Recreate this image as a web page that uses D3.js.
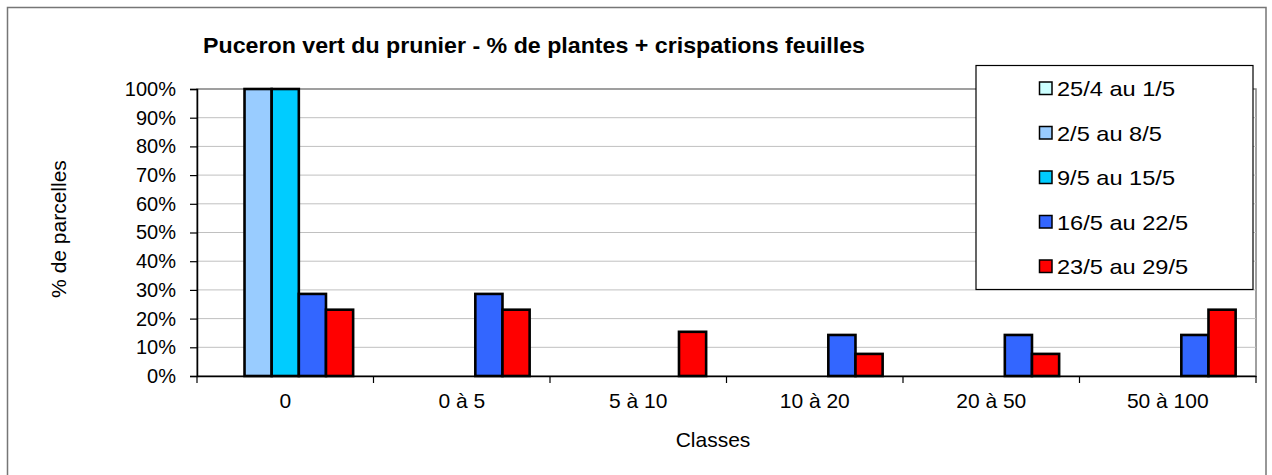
<!DOCTYPE html>
<html><head><meta charset="utf-8">
<script src="https://cdn.jsdelivr.net/npm/d3@7"></script>
<style>
html,body{margin:0;padding:0;background:#fff;}
svg{display:block;font-family:"Liberation Sans",Arial,sans-serif;}
</style></head>
<body>
<svg id="c" width="1272" height="475"></svg>
<script>
const categories = ["0", "0 à 5", "5 à 10", "10 à 20", "20 à 50", "50 à 100"];
const seriesNames = ["25/4 au 1/5", "2/5 au 8/5", "9/5 au 15/5", "16/5 au 22/5", "23/5 au 29/5"];
const s1 = [0, 0, 0, 0, 0, 0];
const s2 = [100, 0, 0, 0, 0, 0];
const s3 = [100, 0, 0, 0, 0, 0];
const s4 = [28.6, 28.6, 0, 14.3, 14.3, 14.3];
const s5 = [23.1, 23.1, 15.4, 7.7, 7.7, 23.1];
const seriesColors = ["#CCFFFF", "#99CCFF", "#00CCFF", "#3366FF", "#FF0000"];
const yTicks = [0, 10, 20, 30, 40, 50, 60, 70, 80, 90, 100];
const title = "Puceron vert du prunier - % de plantes + crispations feuilles";
const yTitle = "% de parcelles";
const xTitle = "Classes";

const seriesValues = [s1, s2, s3, s4, s5];
const svg = d3.select("#c");

// outer frame
svg.append("rect").attr("x", 7.5).attr("y", 7.5).attr("width", 1258.5).attr("height", 520)
  .attr("fill", "#fff").attr("stroke", "#767676").attr("stroke-width", 1.5);

const L = 197, R = 1256, T = 89, B = 376;
const x0 = d3.scaleBand().domain(categories).range([L, R]).paddingInner(0).paddingOuter(0);
const x1 = d3.scaleBand().domain(seriesNames).range([0, x0.bandwidth()]).paddingInner(0).paddingOuter(0.75);
const y = d3.scaleLinear().domain([0, 100]).range([B, T]);

// plot area border
svg.append("rect").attr("x", L).attr("y", T).attr("width", R - L).attr("height", B - T)
  .attr("fill", "none").attr("stroke", "#808080").attr("stroke-width", 1.5);

// gridlines
svg.append("g").selectAll("line").data(yTicks.filter(d => d > 0 && d < 100)).join("line")
  .attr("x1", L).attr("x2", R).attr("y1", d => y(d)).attr("y2", d => y(d))
  .attr("stroke", "#c0c0c0").attr("stroke-width", 1);

// bars
const groups = svg.append("g").selectAll("g").data(seriesNames).join("g")
  .attr("fill", (d, i) => seriesColors[i]);
groups.selectAll("rect").data((s, i) => categories.map((c, j) => ({c, s, v: seriesValues[i][j]})))
  .join("rect")
  .filter(d => d.v > 0)
  .attr("x", d => x0(d.c) + x1(d.s))
  .attr("y", d => y(d.v))
  .attr("width", x1.bandwidth())
  .attr("height", d => y(0) - y(d.v))
  .attr("stroke", "#000").attr("stroke-width", 2.6);

// y axis
const yAxis = svg.append("g").attr("transform", `translate(${L},0)`)
  .call(d3.axisLeft(y).tickValues(yTicks).tickFormat(d => d + "%").tickSize(7).tickPadding(14));
yAxis.select(".domain").attr("stroke", "#000").attr("stroke-width", 1.5);
yAxis.selectAll(".tick line").attr("stroke", "#000").attr("stroke-width", 1.2);
yAxis.selectAll("text").attr("font-size", 20).attr("fill", "#000")
  .attr("font-family", '"Liberation Sans",Arial,sans-serif');

// x axis
const xAxis = svg.append("g").attr("transform", `translate(0,${B})`)
  .call(d3.axisBottom(x0).tickSize(0).tickPadding(17));
xAxis.select(".domain").attr("stroke", "#000").attr("stroke-width", 1.5);
xAxis.selectAll("text").attr("font-size", 21).attr("fill", "#000")
  .attr("font-family", '"Liberation Sans",Arial,sans-serif');
const bounds = categories.map(c => x0(c)).concat([x0.range()[1]]);
xAxis.append("g").selectAll("line").data(bounds).join("line")
  .attr("x1", d => d).attr("x2", d => d).attr("y1", 0).attr("y2", 7)
  .attr("stroke", "#000").attr("stroke-width", 1.2);

// title
svg.append("text").attr("x", 203).attr("y", 53).attr("font-size", 21.5).attr("font-weight", "bold")
  .attr("textLength", 662).attr("lengthAdjust", "spacingAndGlyphs").text(title);

// axis titles
svg.append("text").attr("transform", "translate(66,229) rotate(-90)").attr("text-anchor", "middle")
  .attr("font-size", 21).text(yTitle);
svg.append("text").attr("x", 713).attr("y", 447).attr("text-anchor", "middle")
  .attr("font-size", 21).text(xTitle);

// legend
const lg = svg.append("g");
lg.append("rect").attr("x", 976).attr("y", 65.5).attr("width", 277).attr("height", 224)
  .attr("fill", "#fff").attr("stroke", "#000").attr("stroke-width", 1.2);
const items = lg.selectAll("g.item").data(seriesNames).join("g").attr("class", "item")
  .attr("transform", (d, i) => `translate(1039.5,${82 + i * 44.5})`);
items.append("rect").attr("width", 12.5).attr("height", 12.5)
  .attr("fill", (d, i) => seriesColors[i]).attr("stroke", "#000").attr("stroke-width", 1.5);
items.append("text").attr("transform", "translate(17.5,14) scale(1.18,1)")
  .attr("font-size", 20).text(d => d);
</script>
</body></html>
